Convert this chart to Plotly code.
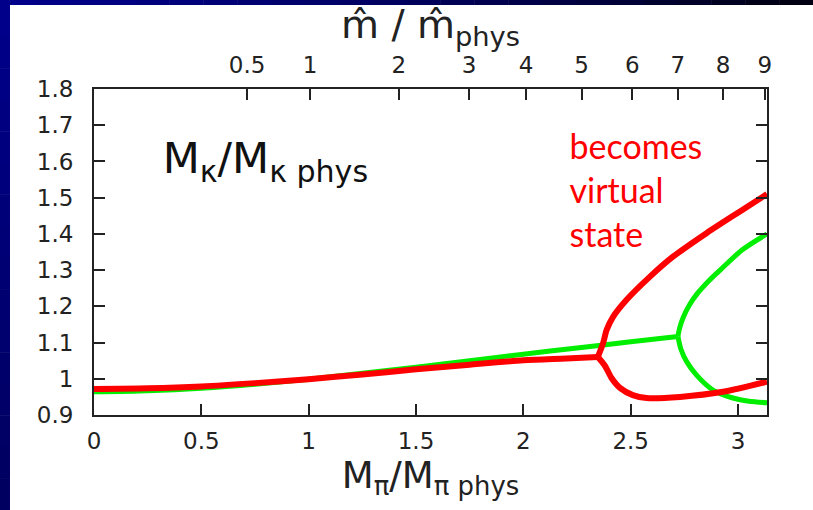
import plotly.graph_objects as go

# Bottom axis: M_pi / M_pi,phys ; left axis: M_kappa / M_kappa,phys
x_ticks = [0, 0.5, 1, 1.5, 2, 2.5, 3]
x_tick_text = ["0", "0.5", "1", "1.5", "2", "2.5", "3"]
y_ticks = [0.9, 1.0, 1.1, 1.2, 1.3, 1.4, 1.5, 1.6, 1.7, 1.8]
y_tick_text = ["0.9", "1", "1.1", "1.2", "1.3", "1.4", "1.5", "1.6", "1.7", "1.8"]

# Top axis: quark-mass ratio, placed at the matching pion-mass ratio
top_tick_pos = [0.713, 1.006, 1.42, 1.747, 2.013, 2.271, 2.508, 2.72, 2.93, 3.125]
top_tick_text = ["0.5", "1", "2", "3", "4", "5", "6", "7", "8", "9"]

# Red curve: main branch, then the two branches after it splits
red_main_x = [0, 0.25, 0.5, 0.75, 1.0, 1.25, 1.5, 1.75, 2.0, 2.2, 2.347]
red_main_y = [0.972, 0.974, 0.979, 0.988, 0.999, 1.012, 1.026, 1.039, 1.051, 1.056, 1.060]
red_up_x = [2.347, 2.372, 2.388, 2.418, 2.481, 2.59, 2.697, 2.853, 3.009, 3.135]
red_up_y = [1.060, 1.099, 1.135, 1.171, 1.218, 1.282, 1.337, 1.402, 1.462, 1.510]
red_low_x = [2.347, 2.38, 2.41, 2.45, 2.51, 2.574, 2.73, 2.93, 3.135]
red_low_y = [1.060, 1.036, 1.003, 0.975, 0.955, 0.947, 0.950, 0.964, 0.992]

# Green curve
green_main_x = [0, 0.25, 0.5, 0.75, 1.0, 1.25, 1.5, 1.75, 2.0, 2.25, 2.5, 2.72]
green_main_y = [0.964, 0.967, 0.974, 0.985, 0.999, 1.015, 1.032, 1.050, 1.068, 1.085, 1.102, 1.117]
green_up_x = [2.72, 2.728, 2.745, 2.775, 2.81, 2.86, 2.92, 3.02, 3.135]
green_up_y = [1.117, 1.140, 1.170, 1.205, 1.235, 1.268, 1.302, 1.356, 1.400]
green_low_x = [2.72, 2.735, 2.76, 2.807, 2.883, 2.976, 3.05, 3.135]
green_low_y = [1.117, 1.080, 1.048, 1.010, 0.969, 0.947, 0.938, 0.934]

RED = "#ff0000"
GREEN = "#00ee00"
AXIS = "#222222"
FONT = "DejaVu Sans"

fig = go.Figure()

for xs, ys in [(green_main_x, green_main_y), (green_up_x, green_up_y), (green_low_x, green_low_y)]:
    fig.add_trace(go.Scatter(x=xs, y=ys, mode="lines",
                             line=dict(color=GREEN, width=5, shape="spline", smoothing=0.8),
                             showlegend=False, hoverinfo="skip"))
for xs, ys in [(red_main_x, red_main_y), (red_up_x, red_up_y), (red_low_x, red_low_y)]:
    fig.add_trace(go.Scatter(x=xs, y=ys, mode="lines",
                             line=dict(color=RED, width=6, shape="spline", smoothing=0.8),
                             showlegend=False, hoverinfo="skip"))

# labels inside the plot area
fig.add_trace(go.Scatter(x=[0.32], y=[1.599], mode="text",
                         text=["M<sub>κ</sub>/M<sub>κ phys</sub>"], textposition="middle right",
                         textfont=dict(size=43, family=FONT, color="#111111"),
                         showlegend=False, hoverinfo="skip", cliponaxis=False))
fig.add_trace(go.Scatter(x=[2.215], y=[1.508], mode="text",
                         text=["becomes<br>virtual<br>state"], textposition="middle right",
                         textfont=dict(size=34, family="Lato", color=RED),
                         showlegend=False, hoverinfo="skip", cliponaxis=False))

# invisible trace so the top axis is rendered
fig.add_trace(go.Scatter(x=[0], y=[0.9], xaxis="x2", mode="markers",
                         marker=dict(opacity=0), showlegend=False, hoverinfo="skip"))

XR = [0, 3.135]
TICKSIZE = 23

fig.update_layout(
    width=813, height=510, autosize=False,
    margin=dict(l=94, r=46, t=89, b=95, autoexpand=False),
    paper_bgcolor="white", plot_bgcolor="white",
    font=dict(family=FONT, color=AXIS, size=TICKSIZE),
    xaxis=dict(range=XR, tickvals=x_ticks, ticktext=x_tick_text,
               ticks="inside", ticklen=11, tickwidth=2, tickcolor=AXIS,
               showline=True, linewidth=2, linecolor=AXIS, mirror=True,
               showgrid=False, zeroline=False, ticklabelstandoff=4,
               title=dict(text="M<sub>π</sub>/M<sub>π phys</sub>",
                          font=dict(size=37), standoff=2)),
    xaxis2=dict(range=XR, overlaying="x", side="top", anchor="y",
                tickvals=top_tick_pos, ticktext=top_tick_text,
                ticks="inside", ticklen=11, tickwidth=2, tickcolor=AXIS,
                showline=False, showgrid=False, zeroline=False, ticklabelstandoff=10,
                title=dict(text="m\u0302 / m\u0302<sub>phys</sub>",
                           font=dict(size=39), standoff=0)),
    yaxis=dict(range=[0.9, 1.8], tickvals=y_ticks, ticktext=y_tick_text,
               ticks="inside", ticklen=11, tickwidth=2, tickcolor=AXIS,
               showline=True, linewidth=2, linecolor=AXIS, mirror="ticks",
               showgrid=False, zeroline=False, ticklabelstandoff=14),
)

# Slide frame: blue strip on the left and along the top, darkening away from the corner
W, H = 813.0, 510.0
L, R, T, B = 94.0, 767.0, 89.0, 415.0
def px_x(p):
    return (p - L) / (R - L)
def px_y(p):
    return (B - p) / (B - T)

n = 24
for i in range(n):
    f = i / (n - 1)
    blue = int(138 - 60 * f - 60 * f * f)
    fig.add_shape(type="rect", xref="paper", yref="paper", layer="above",
                  x0=px_x(W * i / n), x1=px_x(min(W, W * (i + 1) / n + 0.5)),
                  y0=px_y(5), y1=px_y(0), line=dict(width=0),
                  fillcolor=f"rgb(0,0,{blue})")
m = 16
for i in range(m):
    f = i / (m - 1)
    blue = int(138 - 42 * f)
    fig.add_shape(type="rect", xref="paper", yref="paper", layer="above",
                  x0=px_x(0), x1=px_x(10),
                  y0=px_y(min(H, 5 + (H - 5) * (i + 1) / m + 0.5)), y1=px_y(5 + (H - 5) * i / m),
                  line=dict(width=0), fillcolor=f"rgb(0,0,{blue})")

fig.write_html("out.html")
